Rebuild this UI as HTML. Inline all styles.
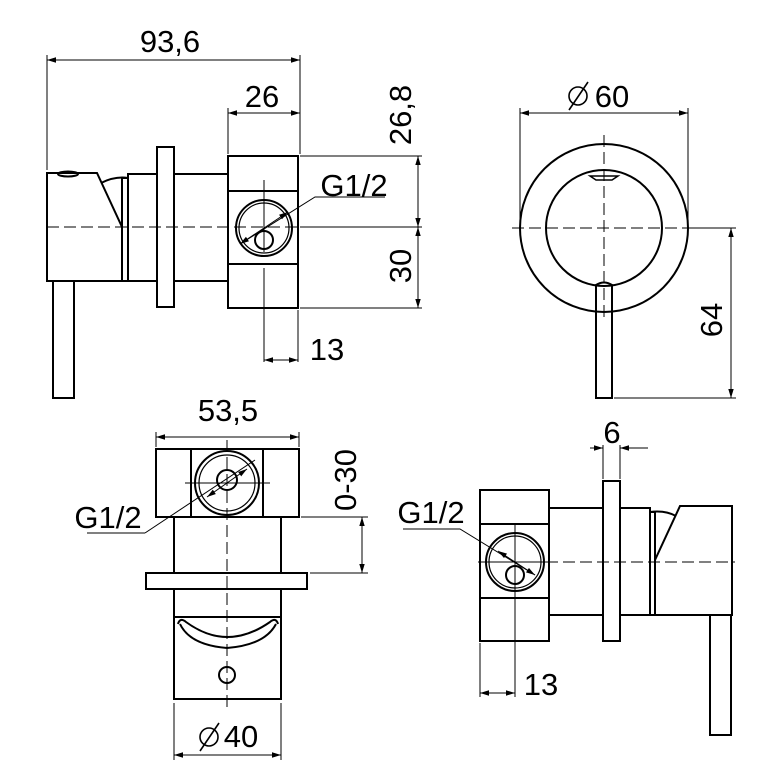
<!DOCTYPE html>
<html><head><meta charset="utf-8"><style>html,body{margin:0;padding:0;background:#fff}svg{display:block}</style></head><body>
<svg width="780" height="780" viewBox="0 0 780 780" xmlns="http://www.w3.org/2000/svg" font-family="Liberation Sans, sans-serif">
<defs>
<marker id="a" viewBox="0 0 10 10" refX="10" refY="5" markerWidth="9" markerHeight="9" orient="auto-start-reverse" markerUnits="userSpaceOnUse"><path d="M0,2 L10,5 L0,8 z" fill="#000"/></marker>
</defs>
<g fill="none" stroke="#000" stroke-width="2">
<path d="M47,281 V173 H97 L122,227 V281 Z"/>
<path d="M101,183 Q115,176 128,178"/>
<ellipse cx="68" cy="174" rx="10" ry="2.5"/>
<rect x="53" y="281" width="21" height="117"/>
<rect x="122" y="178" width="6" height="103"/>
<rect x="128" y="174" width="29" height="107"/>
<rect x="157" y="147" width="17" height="160"/>
<rect x="174" y="174" width="54" height="107"/>
<rect x="228" y="156" width="70" height="152"/>
<line x1="228" y1="191" x2="298" y2="191"/>
<line x1="228" y1="264" x2="298" y2="264"/>
<circle cx="264" cy="228" r="28"/>
<circle cx="264" cy="228" r="25" stroke-width="1.2"/>
<circle cx="264" cy="240" r="9"/>
<circle cx="604" cy="228" r="84"/>
<circle cx="604" cy="228" r="58"/>
<path d="M590,176 H618 L612,180 H596 Z" stroke-width="1.5"/>
<path d="M596,285 Q604,280 612,285 V398 H596 Z"/>
<rect x="156" y="449" width="143" height="68"/>
<line x1="191" y1="449" x2="191" y2="517"/>
<line x1="263" y1="449" x2="263" y2="517"/>
<circle cx="227" cy="483" r="32"/>
<circle cx="227" cy="483" r="28" stroke-width="1.2"/>
<circle cx="227" cy="480" r="10"/>
<rect x="174" y="517" width="107" height="56"/>
<rect x="146" y="573" width="161" height="16"/>
<rect x="174" y="589" width="107" height="28"/>
<path d="M174,617 V699 H281 V617"/>
<path d="M178,624 Q180,617 186,622 Q227,652 270,622 Q276,617 278,624"/>
<path d="M180,624 Q190,645 227,648 Q265,645 276,624"/>
<circle cx="227" cy="675" r="8"/>
<rect x="480" y="490" width="69" height="151"/>
<line x1="480" y1="524" x2="549" y2="524"/>
<line x1="480" y1="598" x2="549" y2="598"/>
<circle cx="515" cy="562" r="29"/>
<circle cx="515" cy="562" r="26" stroke-width="1.2"/>
<circle cx="515" cy="575" r="9"/>
<rect x="549" y="508" width="54" height="107"/>
<rect x="603" y="481" width="17" height="160"/>
<rect x="620" y="508" width="30" height="107"/>
<rect x="650" y="512" width="5" height="103"/>
<path d="M732,615 V506 H680 L655,560 V615 Z"/>
<path d="M650,512 Q665,510 676,516"/>
<rect x="710" y="615" width="21" height="120"/>
</g>
<g stroke="#000" stroke-width="1" fill="none" stroke-dasharray="12,5">
<line x1="47" y1="227" x2="300" y2="227"/>
<line x1="512" y1="228" x2="700" y2="228"/>
<line x1="604" y1="135" x2="604" y2="320"/>
<line x1="227" y1="440" x2="227" y2="708"/>
<line x1="478" y1="562" x2="735" y2="562"/>
</g>
<g stroke="#000" stroke-width="1" fill="none">
<line x1="264" y1="180" x2="264" y2="252"/><line x1="264" y1="268" x2="264" y2="362"/>
<line x1="185" y1="483" x2="270" y2="483"/>
<line x1="515" y1="525" x2="515" y2="697"/><line x1="478" y1="562" x2="552" y2="562"/>
<line x1="47" y1="55" x2="47" y2="170"/><line x1="300" y1="55" x2="300" y2="154"/>
<line x1="47" y1="60" x2="300" y2="60" marker-start="url(#a)" marker-end="url(#a)"/>
<line x1="228" y1="108" x2="228" y2="154"/>
<line x1="228" y1="113" x2="300" y2="113" marker-start="url(#a)" marker-end="url(#a)"/>
<line x1="300" y1="156" x2="422" y2="156"/><line x1="300" y1="227" x2="422" y2="227"/><line x1="300" y1="308" x2="422" y2="308"/>
<line x1="418" y1="156" x2="418" y2="227" marker-start="url(#a)" marker-end="url(#a)"/>
<line x1="418" y1="227" x2="418" y2="308" marker-start="url(#a)" marker-end="url(#a)"/>
<line x1="298" y1="310" x2="298" y2="362"/>
<line x1="264" y1="360" x2="298" y2="360" marker-start="url(#a)" marker-end="url(#a)"/>
<path d="M385,197 H315 L240,244" /><line x1="288" y1="212" x2="240" y2="244" marker-start="url(#a)" marker-end="url(#a)"/>
<line x1="520" y1="108" x2="520" y2="222"/><line x1="688" y1="108" x2="688" y2="222"/>
<line x1="520" y1="113" x2="688" y2="113" marker-start="url(#a)" marker-end="url(#a)"/>
<line x1="690" y1="228" x2="736" y2="228"/><line x1="614" y1="398" x2="736" y2="398"/>
<line x1="731" y1="228" x2="731" y2="398" marker-start="url(#a)" marker-end="url(#a)"/>
<line x1="156" y1="432" x2="156" y2="447"/><line x1="299" y1="432" x2="299" y2="447"/>
<line x1="156" y1="437" x2="299" y2="437" marker-start="url(#a)" marker-end="url(#a)"/>
<line x1="301" y1="517" x2="368" y2="517"/><line x1="310" y1="573" x2="368" y2="573"/>
<line x1="362" y1="517" x2="362" y2="573" marker-start="url(#a)" marker-end="url(#a)"/>
<path d="M145,533 H87"/><path d="M145,533 L255,460"/><line x1="207" y1="497" x2="247" y2="469" marker-start="url(#a)" marker-end="url(#a)"/>
<line x1="174" y1="703" x2="174" y2="760"/><line x1="281" y1="703" x2="281" y2="760"/>
<line x1="174" y1="755" x2="281" y2="755" marker-start="url(#a)" marker-end="url(#a)"/>
<line x1="603" y1="445" x2="603" y2="479"/><line x1="620" y1="445" x2="620" y2="479"/>
<line x1="590" y1="448" x2="603" y2="448" marker-end="url(#a)"/><line x1="648" y1="448" x2="620" y2="448" marker-end="url(#a)"/>
<line x1="480" y1="643" x2="480" y2="697"/>
<line x1="480" y1="693" x2="515" y2="693" marker-start="url(#a)" marker-end="url(#a)"/>
<path d="M403,529 H460 L535,575"/><line x1="498" y1="551" x2="535" y2="575" marker-start="url(#a)" marker-end="url(#a)"/>
</g>
<g stroke="#000" stroke-width="1.6" fill="none">
<circle cx="578" cy="96" r="9"/><line x1="569" y1="110" x2="588" y2="82"/>
<circle cx="209" cy="737" r="9"/><line x1="200" y1="751" x2="219" y2="723"/>
</g>
<g font-size="31" fill="#000" text-anchor="middle">
<text x="170" y="52">93,6</text>
<text x="262" y="107">26</text>
<text x="354" y="196">G1/2</text>
<text x="327" y="360">13</text>
<text x="0" y="0" transform="translate(411,115) rotate(-90)">26,8</text>
<text x="0" y="0" transform="translate(411,266) rotate(-90)">30</text>
<text x="612" y="107">60</text>
<text x="0" y="0" transform="translate(722,320) rotate(-90)">64</text>
<text x="228" y="421">53,5</text>
<text x="108" y="528">G1/2</text>
<text x="0" y="0" transform="translate(356,480) rotate(-90)">0-30</text>
<text x="241" y="747">40</text>
<text x="612" y="443">6</text>
<text x="431" y="523">G1/2</text>
<text x="541" y="695">13</text>
</g>
</svg>
</body></html>
